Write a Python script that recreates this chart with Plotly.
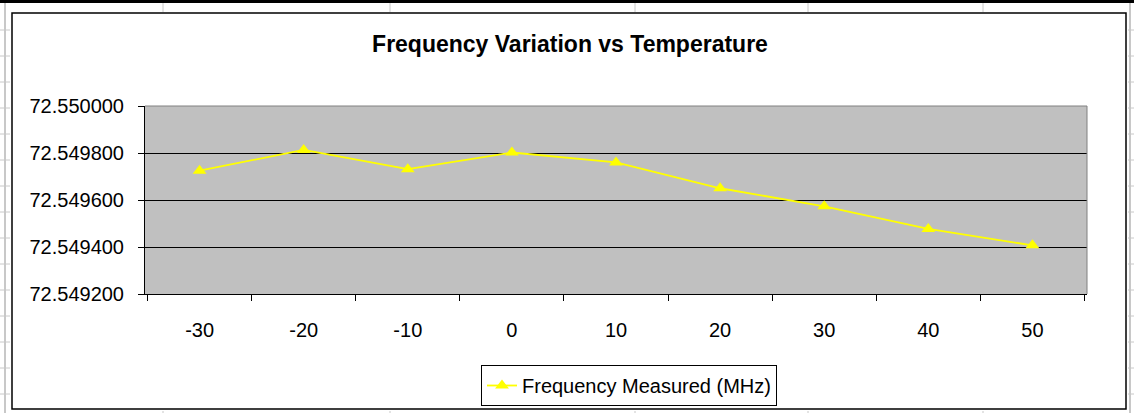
import plotly.graph_objects as go

# data
temperatures = ['-30', '-20', '-10', '0', '10', '20', '30', '40', '50']
freq_measured = [72.549725, 72.549813, 72.549731, 72.549802, 72.549760,
                 72.549650, 72.549573, 72.549477, 72.549407]
y_ticks = [72.5492, 72.5494, 72.5496, 72.5498, 72.5500]

W, H = 1134, 413
L, R, T, B = 145, 1087, 106, 294  # plot area in pixels


def px(x):
    return (x - L) / (R - L)


def py(y):
    return (B - y) / (B - T)


fig = go.Figure()

fig.add_trace(go.Scatter(
    x=temperatures,
    y=freq_measured,
    mode='lines+markers',
    name='Frequency Measured (MHz)',
    line=dict(color='#FFFF00', width=1.8),
    marker=dict(symbol='triangle-up', size=12, color='#FFFF00'),
))

shapes = []
# chart area border
shapes.append(dict(type='rect', xref='paper', yref='paper',
                   x0=px(12), x1=px(1126), y0=py(409), y1=py(13),
                   line=dict(color='black', width=1.5), layer='below'))
# plot area border (top / right in gray)
shapes.append(dict(type='line', xref='paper', yref='paper',
                   x0=0, x1=1, y0=1, y1=1, line=dict(color='#808080', width=1)))
shapes.append(dict(type='line', xref='paper', yref='paper',
                   x0=1, x1=1, y0=0, y1=1, line=dict(color='#808080', width=1)))
# spreadsheet cells around the chart
shapes.append(dict(type='line', xref='paper', yref='paper',
                   x0=px(0), x1=px(W), y0=py(1.5), y1=py(1.5),
                   line=dict(color='black', width=3)))
for cx in [163, 390, 635, 808, 983]:
    shapes.append(dict(type='line', xref='paper', yref='paper',
                       x0=px(cx), x1=px(cx), y0=py(3), y1=py(12),
                       line=dict(color='#C8C8C8', width=1)))
    shapes.append(dict(type='line', xref='paper', yref='paper',
                       x0=px(cx), x1=px(cx), y0=py(411), y1=py(H),
                       line=dict(color='#C8C8C8', width=1)))
for cx in [5, 1130]:
    shapes.append(dict(type='line', xref='paper', yref='paper',
                       x0=px(cx), x1=px(cx), y0=py(3), y1=py(H),
                       line=dict(color='#C8C8C8', width=2)))
for cy in [30, 56, 82, 108, 134, 160, 186, 212, 238, 264, 290, 316, 342, 368, 394]:
    shapes.append(dict(type='line', xref='paper', yref='paper',
                       x0=px(0), x1=px(10), y0=py(cy), y1=py(cy),
                       line=dict(color='#C8C8C8', width=1)))
    shapes.append(dict(type='line', xref='paper', yref='paper',
                       x0=px(1128), x1=px(W), y0=py(cy), y1=py(cy),
                       line=dict(color='#C8C8C8', width=1)))

fig.update_layout(
    width=W,
    height=H,
    margin=dict(l=L, r=W - R, t=T, b=H - B, autoexpand=False),
    paper_bgcolor='white',
    plot_bgcolor='#C0C0C0',
    font=dict(family='Liberation Sans, Arial', size=20, color='black'),
    title=dict(text='<b>Frequency Variation vs Temperature</b>',
               x=570 / W, xanchor='center', y=1 - 44 / H, yanchor='middle',
               font=dict(size=23, color='black')),
    xaxis=dict(
        type='category',
        tickson='boundaries',
        ticks='outside', ticklen=6, tickcolor='black', tickwidth=1,
        showline=True, linecolor='black', linewidth=1,
        showgrid=False, zeroline=False,
        ticklabelstandoff=18,
    ),
    yaxis=dict(
        range=[y_ticks[0], y_ticks[-1]],
        tickvals=y_ticks,
        tickformat='.6f',
        ticks='outside', ticklen=6, tickcolor='black', tickwidth=1,
        showline=True, linecolor='black', linewidth=1,
        showgrid=True, gridcolor='black', gridwidth=1,
        zeroline=False,
        ticklabelstandoff=10,
    ),
    legend=dict(
        x=px(629), xanchor='center', y=py(365), yanchor='top',
        bordercolor='black', borderwidth=1, bgcolor='white',
        font=dict(size=20),
    ),
    showlegend=True,
    shapes=shapes,
)

fig.write_html("out.html",
               config={"displayModeBar": False},
               post_script="document.body.style.margin='0';"
                           "document.body.style.overflow='hidden';")
